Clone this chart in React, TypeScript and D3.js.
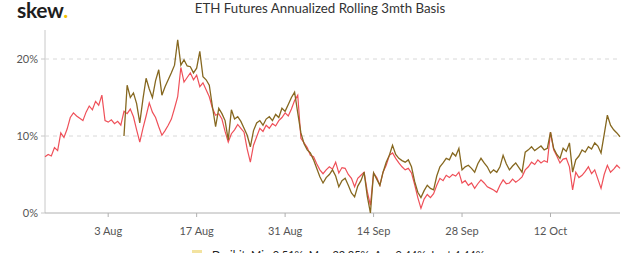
import React from "react";
import * as d3 from "d3";

const title = "ETH Futures Annualized Rolling 3mth Basis";
const startDate = "2020-07-24T00:00:00Z";
const stepHours = 12;
const brownStartIndex = 25;
const yTicks = [0, 0.1, 0.2];
const xTickDates = ["2020-08-03", "2020-08-17", "2020-08-31", "2020-09-14", "2020-09-28", "2020-10-12"];
const legendText = "Deribit: Min 0.51%, Max 22.35%, Avg 9.44%, Last 4.44%";

const redValues = [
  7.3, 7.6, 7.4, 8.5, 8.1, 10.4, 9.8, 10.9, 12.4, 13.0,
  12.6, 12.3, 12.0, 13.1, 13.9, 13.4, 14.5, 14.0, 15.3, 12.0,
  11.8, 12.1, 11.6, 11.9, 11.4, 13.2, 12.9, 13.5, 12.5, 10.8,
  9.2, 11.0, 12.6, 14.3, 13.1, 12.4, 11.2, 10.1, 10.7, 11.4,
  12.2, 13.6, 15.1, 18.9, 17.0, 17.6, 18.2, 17.3, 17.9, 16.4,
  16.9, 16.0, 15.1, 13.6, 12.7, 12.9, 12.2, 10.6, 9.2, 10.3,
  10.8, 11.5, 11.0, 10.5, 8.3, 6.6, 8.8, 9.9, 11.0, 10.6,
  11.4, 11.0, 11.6, 11.3, 12.0, 12.4, 13.0, 12.6, 13.5, 14.6,
  15.3, 9.7, 9.1, 8.5, 7.5, 7.3, 6.4, 5.6, 5.1, 5.6,
  6.0, 5.7, 6.6, 5.2, 5.9, 5.8, 5.0, 4.5, 3.4, 4.5,
  4.9, 5.3, 2.8, 1.0, 5.2, 4.6, 3.6, 5.3, 6.2, 7.5,
  7.8, 7.1, 6.5, 6.0, 5.6, 5.8, 5.2, 3.7, 2.0, 0.6,
  1.8, 2.4, 2.0, 2.5, 3.6, 4.5, 4.2, 4.9, 4.6, 5.0,
  4.8, 5.3, 3.9, 4.2, 3.6, 3.9, 3.2, 3.8, 4.3, 3.9,
  3.4, 3.2, 3.0, 2.7, 3.6, 4.3, 3.8, 3.9, 4.4, 4.0,
  4.3, 4.7, 5.6, 6.0, 6.6, 6.3, 6.9, 6.5, 6.8, 6.6,
  10.5, 8.2, 7.4, 6.5, 7.0, 7.1, 6.0, 3.0, 5.3, 4.6,
  4.9, 5.4, 6.0, 5.1, 5.6, 4.4, 3.2, 5.0, 6.2, 5.3,
  5.7, 6.2, 5.8,
];

const brownValues = [
  10.0, 16.6, 15.0, 15.6, 14.2, 11.7, 14.8, 17.5, 16.1, 15.0,
  17.2, 18.6, 15.3, 16.4, 17.3, 18.2, 19.2, 22.5, 19.2, 19.9,
  19.1, 19.0, 18.2, 18.8, 21.0, 17.7, 17.3, 16.6, 13.8, 11.2,
  13.6, 12.9, 12.0, 9.5, 13.4, 12.2, 12.5, 11.9, 11.0, 10.1,
  8.6, 10.7, 11.7, 12.0, 11.4, 12.2, 12.5, 12.0, 12.8, 12.4,
  13.6, 13.2, 14.1, 15.0, 15.7, 13.0, 10.4, 9.0, 8.2, 7.8,
  6.9, 5.8, 4.7, 3.9, 4.6, 5.0, 5.6, 4.8, 3.4, 4.2,
  4.5, 3.6, 2.6, 2.1, 3.5, 4.2, 5.3, 2.2, 0.0, 5.2,
  4.4, 3.6, 5.3, 6.6, 7.5, 8.8, 7.6, 7.1, 6.8, 6.6,
  6.9, 6.0, 4.1, 2.7, 2.0, 2.9, 3.6, 3.2, 3.0, 4.8,
  6.0, 6.5, 7.1, 6.9, 7.8, 7.4, 8.4, 5.6, 6.0, 6.2,
  5.8, 5.3, 6.4, 7.1, 6.5, 6.0, 5.2, 5.6, 5.3, 6.0,
  7.5, 6.4, 5.6, 6.1, 6.5, 5.9, 5.3, 7.9, 8.2, 8.6,
  8.1, 8.4, 8.7, 8.2, 8.4, 10.5, 8.4, 7.6, 7.1, 8.4,
  8.0, 9.1, 5.3, 6.9, 7.4, 8.2, 7.9, 8.6, 8.3, 9.1,
  8.7, 7.8, 10.2, 12.7, 11.4, 10.8, 10.4, 9.9,
];

const W = 640;
const H = 253;
const left = 45;
const right = 620;
const y0 = 213;
const y20 = 59;

type Pt = { t: Date; v: number };

export default function App() {
  const t0 = new Date(startDate).getTime();
  const toDate = (i: number) => new Date(t0 + i * stepHours * 3600 * 1000);
  const redPts: Pt[] = redValues.map((v, i) => ({ t: toDate(i), v: v / 100 }));
  const brownPts: Pt[] = brownValues.map((v, i) => ({ t: toDate(i + brownStartIndex), v: v / 100 }));

  const x = d3
    .scaleUtc()
    .domain([toDate(0), toDate(redValues.length - 1)])
    .range([left, right]);
  const y = d3.scaleLinear().domain([0, 0.2]).range([y0, y20]);

  const line = d3
    .line<Pt>()
    .x((d) => x(d.t))
    .y((d) => y(d.v));

  const fmt = d3.utcFormat("%-d %b");
  const font = "Lato, 'Open Sans', sans-serif";

  return (
    <svg
      width={W}
      height={H}
      style={{ position: "absolute", left: 0, top: 0, background: "#fff" }}
      fontFamily={font}
    >
      <text x={17} y={18} fontSize={21} fontWeight={700} fill="#1e1e1e" letterSpacing={-0.3}>
        skew<tspan fill="#f2c200">.</tspan>
      </text>
      <text x={320} y={13} textAnchor="middle" fontSize={13.3} fill="#333">
        {title}
      </text>

      {/* y axis line */}
      <line x1={left} x2={left} y1={30} y2={y0} stroke="#c8c8c8" strokeWidth={1} />

      {yTicks.map((t) => (
        <g key={t}>
          {t > 0 && (
            <line
              x1={left}
              x2={617}
              y1={y(t)}
              y2={y(t)}
              stroke="#d8d8d8"
              strokeDasharray="4,4"
              strokeWidth={1}
            />
          )}
          <line x1={left - 4} x2={left} y1={y(t)} y2={y(t)} stroke="#c8c8c8" />
          <text x={38} y={y(t) + 4} textAnchor="end" fontSize={11} fill="#555">
            {`${Math.round(t * 100)}%`}
          </text>
        </g>
      ))}

      {/* x axis */}
      <line x1={left} x2={right} y1={y0} y2={y0} stroke="#b0b0b0" strokeWidth={1} />
      {xTickDates.map((s) => {
        const d = new Date(s + "T00:00:00Z");
        const px = x(d);
        return (
          <g key={s}>
            <line x1={px} x2={px} y1={y0} y2={y0 + 4} stroke="#b0b0b0" />
            <text x={px} y={235} textAnchor="middle" fontSize={11} fill="#555">
              {fmt(d)}
            </text>
          </g>
        );
      })}

      <path d={line(redPts) || ""} fill="none" stroke="#ef5059" strokeWidth={1.2} />
      <path d={line(brownPts) || ""} fill="none" stroke="#866820" strokeWidth={1.3} />

      {/* legend (cut off at bottom, as in the reference) */}
      <rect x={192} y={250} width={10} height={3} fill="#f3e3a0" />
      <text x={212} y={259} fontSize={11} fill="#222">
        {legendText}
      </text>
    </svg>
  );
}
